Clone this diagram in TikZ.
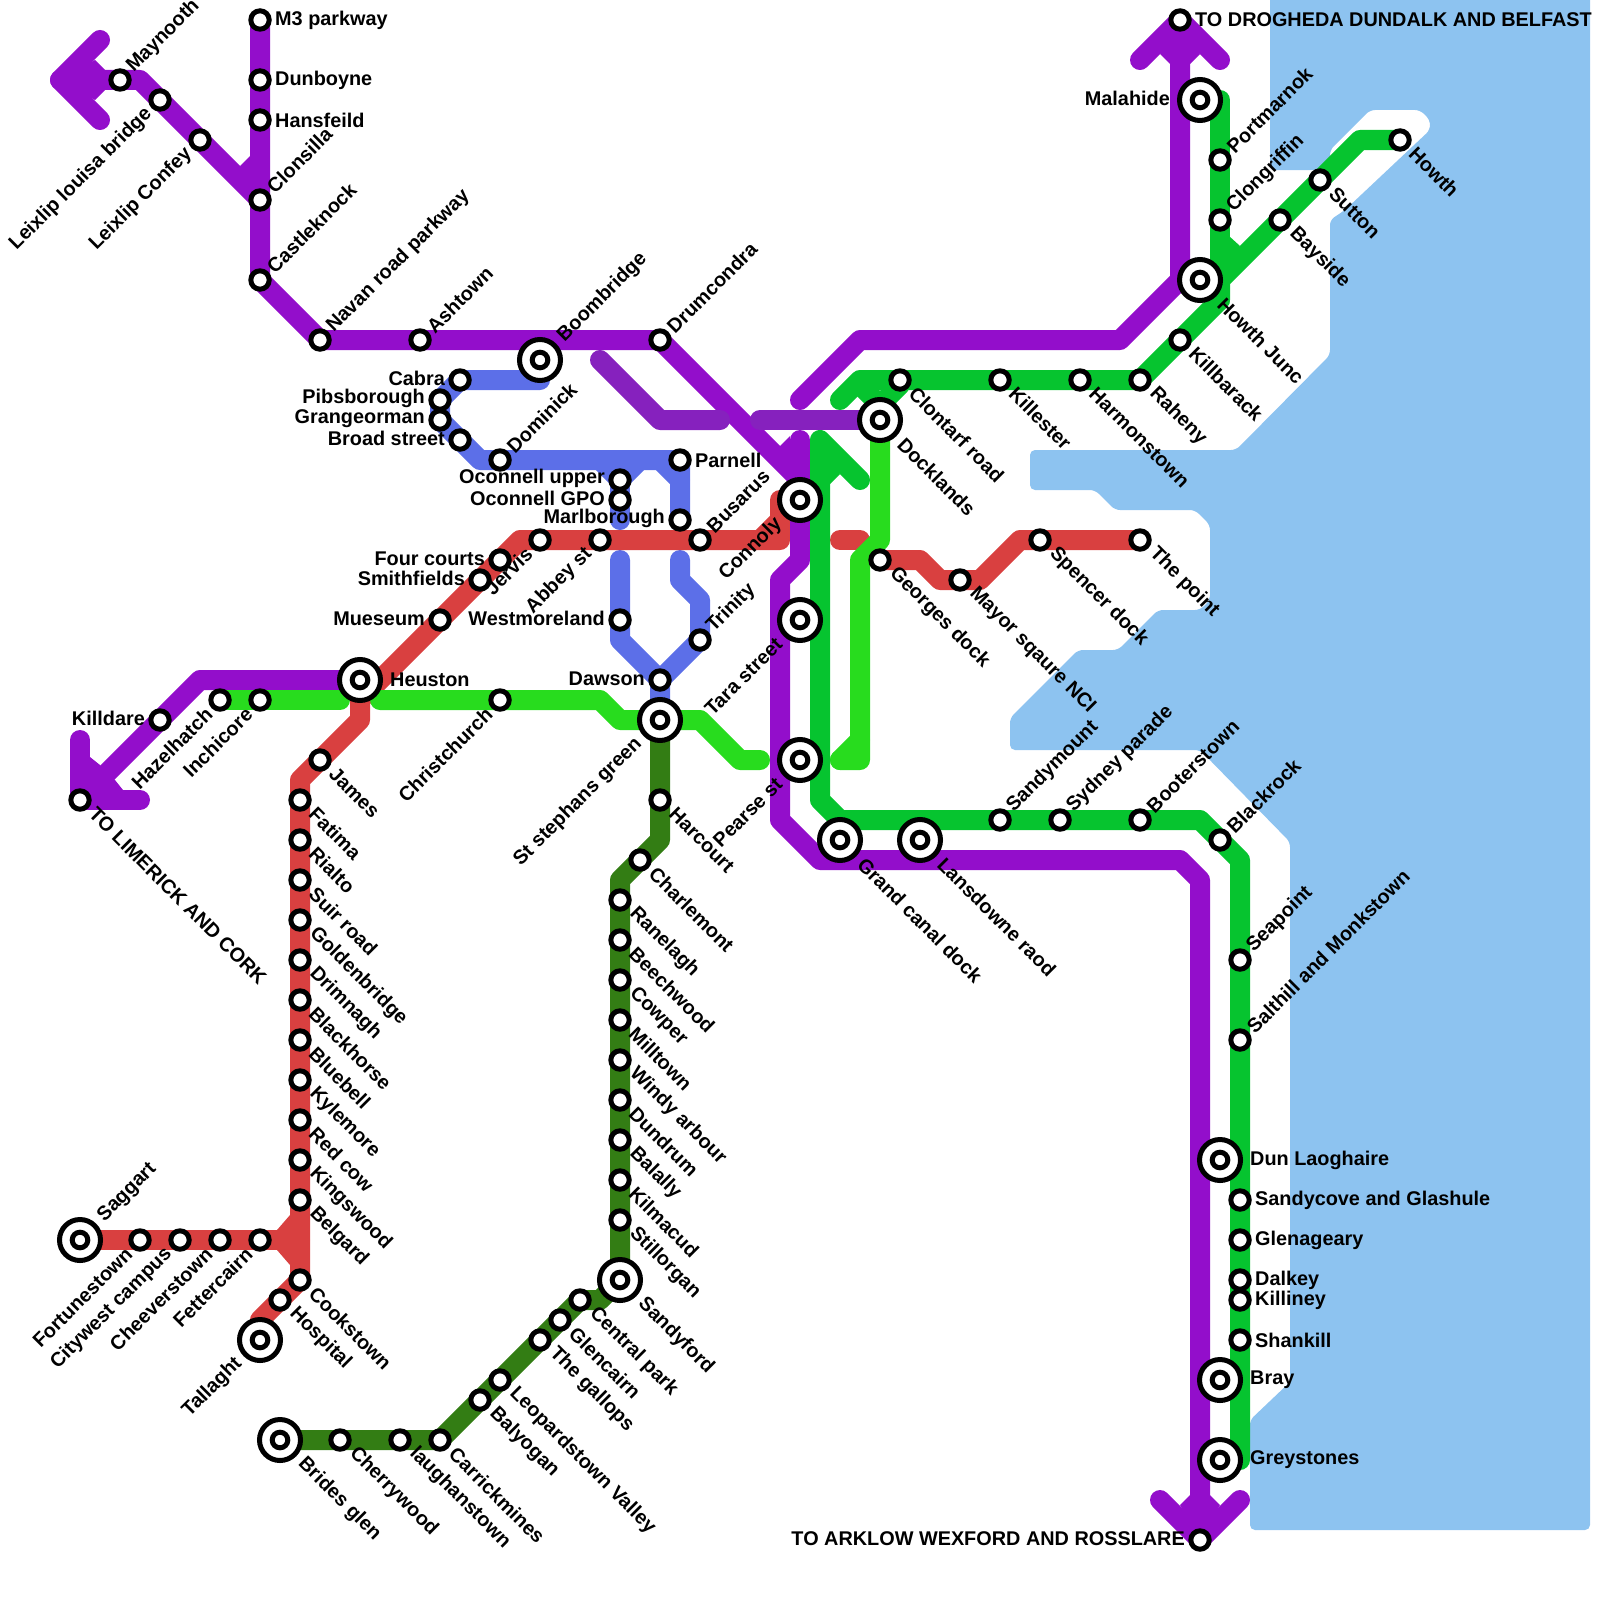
\documentclass[tikz,border=0pt]{standalone}
\usepackage{fontspec}
\setmainfont{Liberation Sans}
\definecolor{cpurple}{HTML}{930ECB}
\definecolor{cdpurple}{HTML}{8621BE}
\definecolor{cblue}{HTML}{5C6FE8}
\definecolor{cred}{HTML}{D94040}
\definecolor{cgreen}{HTML}{06C42F}
\definecolor{clgreen}{HTML}{28DC1E}
\definecolor{cdgreen}{HTML}{337D14}
\definecolor{csea}{HTML}{8DC3F0}
\tikzset{
  rail/.style={line width=20bp,line cap=round,line join=round},
  stn/.style={circle,draw=black,fill=white,line width=5bp,minimum size=18.4bp,inner sep=0pt},
  hubout/.style={circle,draw=black,fill=white,line width=5bp,minimum size=41bp,inner sep=0pt},
  hubin/.style={circle,draw=black,fill=white,line width=5bp,minimum size=15.6bp,inner sep=0pt},
  lbl/.style={inner sep=0pt,text=black,font=\fontsize{19.85bp}{20bp}\selectfont\bfseries}
}
\newcommand{\Place}[5]{\node[stn] (s#1) at (#1) {}; \node[lbl,rotate=#2,anchor=#3] (t#1) at ([shift={(#4)}]#1) {#5};}
\newcommand{\PlaceHub}[5]{\node[hubout] (s#1) at (#1) {}; \node[hubin] (c#1) at (#1) {}; \node[lbl,rotate=#2,anchor=#3] (t#1) at ([shift={(#4)}]#1) {#5};}
\newcommand{\sUR}[2]{\Place{#1}{45}{west}{10,-10.5}{#2}}
\newcommand{\sUL}[2]{\Place{#1}{45}{east}{-11,11}{#2}}
\newcommand{\sDR}[2]{\Place{#1}{-45}{west}{12.5,10.5}{#2}}
\newcommand{\sRT}[2]{\Place{#1}{0}{west}{15,0}{#2}}
\newcommand{\sLT}[2]{\Place{#1}{0}{east}{-15,-1.5}{#2}}
\newcommand{\hUR}[2]{\PlaceHub{#1}{45}{west}{21,-21}{#2}}
\newcommand{\hUL}[2]{\PlaceHub{#1}{45}{east}{-21,21}{#2}}
\newcommand{\hDR}[2]{\PlaceHub{#1}{-45}{west}{21,21}{#2}}
\newcommand{\hRT}[2]{\PlaceHub{#1}{0}{west}{30,0}{#2}}
\newcommand{\hLT}[2]{\PlaceHub{#1}{0}{east}{-30,-2}{#2}}
\begin{document}
\begin{tikzpicture}[x=1bp,y=-1bp]
\useasboundingbox (0,0) rectangle (1600,1600);
% sea
\fill[csea,rounded corners=5bp] (1270,-10)--(1270,170)--(1330,170)--(1330,150)--(1370,110)--(1420,110)--(1430,120)--(1430,130)--(1345,210)--(1330,220)--(1330,355)--(1236,450)--(1030,450)--(1030,490)--(1095,490)--(1115,510)--(1195,510)--(1210,525)--(1210,600)--(1200,610)--(1158,610)--(1118,650)--(1078,650)--(1010,718)--(1010,750)--(1200,750)--(1290,842)--(1290,1382)--(1250,1420)--(1250,1530)--(1590,1530)--(1590,-10)--cycle;
% station positions
\foreach \n/\x/\y in {maynooth/120/80,louisa/160/100,confey/200/140,mthree/260/20,dunboyne/260/80,hansfeild/260/120,clonsilla/260/200,castleknock/260/280,navan/320/340,ashtown/420/340,boombridge/540/360,drumcondra/660/340,
cabra/460/380,pibsborough/440/400,grangeorman/440/420,broad/460/440,dominick/500/460,parnell/680/460,oupper/620/480,ogpo/620/500,marlborough/680/520,busarus/700/540,abbey/600/540,jervis/540/540,fourcourts/500/560,smithfields/480/580,mueseum/440/620,westmoreland/620/620,trinity/700/640,dawson/660/680,heuston/360/680,christchurch/500/700,inchicore/260/700,hazelhatch/220/700,killdare/160/720,limerick/80/800,stephans/660/720,connoly/800/500,tara/800/620,pearse/800/760,harcourt/660/800,charlemont/640/860,
ranelagh/620/900,beechwood/620/940,cowper/620/980,milltown/620/1020,windy/620/1060,dundrum/620/1100,balally/620/1140,kilmacud/620/1180,stillorgan/620/1220,sandyford/620/1280,central/580/1300,glencairn/560/1320,gallops/540/1340,leopardstown/500/1380,balyogan/480/1400,carrickmines/440/1440,laughanstown/400/1440,cherrywood/340/1440,brides/280/1440,
james/320/760,fatima/300/800,rialto/300/840,suir/300/880,goldenbridge/300/920,drimnagh/300/960,blackhorse/300/1000,bluebell/300/1040,kylemore/300/1080,redcow/300/1120,kingswood/300/1160,belgard/300/1200,cookstown/300/1280,hospital/280/1300,tallaght/260/1340,fettercairn/260/1240,cheeverstown/220/1240,citywest/180/1240,fortunestown/140/1240,saggart/80/1240,
docklands/880/420,clontarf/900/380,killester/1000/380,harmonstown/1080/380,raheny/1140/380,killbarack/1180/340,howthjunc/1200/280,bayside/1280/220,sutton/1320/180,howth/1400/140,clongriffin/1220/220,portmarnok/1220/160,malahide/1200/100,drogheda/1180/20,
georges/880/560,mayor/960/580,spencer/1040/540,thepoint/1140/540,grandcanal/840/840,lansdowne/920/840,sandymount/1000/820,sydney/1060/820,booterstown/1140/820,blackrock/1220/840,seapoint/1240/960,salthill/1240/1040,dun/1220/1160,sandycove/1240/1200,glenageary/1240/1240,dalkey/1240/1280,killiney/1240/1300,shankill/1240/1340,bray/1220/1380,greystones/1220/1460,arklow/1200/1540}
  {\coordinate (\n) at (\x,\y);}
% bends
\foreach \n/\x/\y in {pa/100/40,pb/60/80,pc/100/120,pd/140/80,pe/800/480,pf/800/440,pg/800/560,ph/780/580,pi/780/820,pj/820/860,pk/1180/860,pl/1200/880,
pm/800/400,pn/860/340,po/1120/340,pp/1180/280,pq/1140/60,pr/1220/60,ps/200/680,pt/80/740,pu/140/800,pv/1160/1500,pw/1240/1500,
da/600/360,db/660/420,dc/720/420,dd/760/420,
ga/840/400,gb/860/380,gc/880/405,gd/900/385,ge/860/385,gf/1220/300,gg/1220/280,gh/1360/140,gi/1220/100,gj/860/480,gk/820/440,gl/820/800,gm/840/820,gn/1200/820,go/1240/860,gp/1240/1460,
la/880/540,lb/860/560,lc/860/760,ld/840/760,le/860/740,lf/340/700,lg/380/700,lh/600/700,li/620/720,lj/700/720,lk/740/760,ll/760/760,
ba/480/460,bb/660/460,bc/680/480,bd/600/460,be/640/460,bf/620/520,bg/620/560,bh/620/640,bi/680/560,bj/680/580,bk/700/600,bl/660/700,
ra/780/500,rb/780/540,rc/760/540,rd/780/520,re/520/540,rf/360/700,rg/360/720,rh/300/780,ri/260/1320,rj/840/540,rk/860/540,rl/920/560,rm/940/580,rn/980/580,ro/1020/540,rp/880/560,
ka/660/840,kb/620/880,kc/600/1300}
  {\coordinate (\n) at (\x,\y);}
% dark green
\draw[rail,cdgreen] (stephans)--(harcourt)--(ka)--(charlemont)--(kb)--(ranelagh)--(sandyford)--(kc)--(central)--(glencairn)--(gallops)--(leopardstown)--(balyogan)--(carrickmines)--(laughanstown)--(cherrywood)--(brides);
% blue
\draw[rail,cblue] (boombridge|-cabra)--(cabra)--(pibsborough)--(grangeorman)--(broad)--(ba)--(parnell)--(marlborough);
\draw[rail,cblue] (bb)--(bc);
\draw[rail,cblue] (bd)--(oupper)--(be);
\draw[rail,cblue] (oupper)--(bf);
\draw[rail,cblue] (bg)--(westmoreland)--(bh)--(dawson)--(bl);
\draw[rail,cblue] (bi)--(bj)--(bk)--(trinity)--(dawson);
% red
\draw[rail,cred] (connoly)--(ra)--(rb)--(busarus)--(abbey)--(jervis)--(re)--(fourcourts)--(smithfields)--(mueseum)--(rf)--(rg)--(james)--(rh)--(fatima)--(cookstown)--(hospital)--(ri)--(tallaght);
\draw[rail,cred] (saggart)--(fortunestown)--(citywest)--(cheeverstown)--(fettercairn)--(belgard|-fettercairn);
\draw[rail,cred] (rc)--(rd);
\fill[cred] (277,1230)--(290,1215)--(290,1265)--(277,1250)--cycle;
\draw[rail,cred] (rj)--(rk);
\draw[rail,cred] (rp)--(rl)--(rm)--(rn)--(ro)--(spencer)--(thepoint);
% purple
\draw[rail,cpurple] (pa)--(pb)--(pc);
\draw[rail,cpurple] (pb)--(maynooth)--(pd)--(louisa)--(confey)--(clonsilla);
\fill[cpurple] (60,80)--(95,60)--(105,70)--(105,90)--(95,100)--cycle;
\draw[rail,cpurple] (mthree)--(dunboyne)--(hansfeild)--(clonsilla)--(castleknock)--(navan)--(ashtown)--(drumcondra)--(pe)--(connoly)--(pg)--(ph)--(pi)--(pj)--(pk)--(pl)--(arklow);
\fill[cpurple] (240,166)--(250,156)--(250,190)--cycle;
\draw[rail,cpurple] (pf)--(pe);
\fill[cpurple] (780,446)--(790,436)--(790,470)--(780,460)--cycle;
\draw[rail,cpurple] (pm)--(pn)--(po)--(pp)--(drogheda);
\draw[rail,cpurple] (pq)--(drogheda)--(pr);
\fill[cpurple] (1180,20)--(1160,54)--(1170,64)--(1190,64)--(1200,54)--cycle;
\draw[rail,cpurple] (heuston)--(ps)--(killdare)--(limerick);
\draw[rail,cpurple] (pt)--(limerick)--(pu);
\fill[cpurple] (80,800)--(90,757)--(100,765)--(115,780)--(123,790)--cycle;
\draw[rail,cpurple] (pv)--(arklow)--(pw);
\fill[cpurple] (1200,1540)--(1180,1505)--(1190,1495)--(1210,1495)--(1220,1505)--cycle;
% dark purple
\draw[rail,cdpurple] (da)--(db)--(dc);
\draw[rail,cdpurple] (dd)--(docklands);
% light green
\draw[rail,clgreen] (docklands)--(la)--(lb)--(lc)--(ld);
\draw[rail,clgreen] (ld)--(le);
\draw[rail,clgreen] (hazelhatch)--(inchicore)--(lf);
\draw[rail,clgreen] (lg)--(christchurch)--(lh)--(li)--(stephans)--(lj)--(lk)--(ll);
% green
\draw[rail,cgreen] (ga)--(gb)--(clontarf)--(killester)--(harmonstown)--(raheny)--(killbarack)--(gf)--(gg)--(bayside)--(sutton)--(gh)--(howth);
\draw[rail,cgreen] (ge)--(gc)--(gd);
\draw[rail,cgreen] (malahide)--(gi)--(portmarnok)--(clongriffin)--(gf);
\fill[cgreen] (1229,236)--(1240,246)--(1225,270)--cycle;
\draw[rail,cgreen] (gj)--(gk)--(gl)--(gm)--(sandymount)--(sydney)--(booterstown)--(gn)--(blackrock)--(go)--(seapoint)--(salthill)--(sandycove)--(glenageary)--(dalkey)--(killiney)--(shankill)--(gp)--(greystones);
\fill[cgreen] (820,440)--(840,474)--(830,484)--(812,484)--cycle;
% stations and labels
\sUR{maynooth}{Maynooth}
\sUL{louisa}{Leixlip louisa bridge}
\sUL{confey}{Leixlip Confey}
\sRT{mthree}{M3 parkway}
\sRT{dunboyne}{Dunboyne}
\sRT{hansfeild}{Hansfeild}
\sUR{clonsilla}{Clonsilla}
\sUR{castleknock}{Castleknock}
\sUR{navan}{Navan road parkway}
\sUR{ashtown}{Ashtown}
\hUR{boombridge}{Boombridge}
\sUR{drumcondra}{Drumcondra}
\sLT{cabra}{Cabra}
\sLT{pibsborough}{Pibsborough}
\sLT{grangeorman}{Grangeorman}
\sLT{broad}{Broad street}
\sUR{dominick}{Dominick}
\sRT{parnell}{Parnell}
\sLT{oupper}{Oconnell upper}
\sLT{ogpo}{Oconnell GPO}
\sLT{marlborough}{Marlborough}
\sUR{busarus}{Busarus}
\sUL{abbey}{Abbey st}
\sUL{jervis}{Jervis}
\sLT{fourcourts}{Four courts}
\sLT{smithfields}{Smithfields}
\sLT{mueseum}{Mueseum}
\sLT{westmoreland}{Westmoreland}
\sUR{trinity}{Trinity}
\sLT{dawson}{Dawson}
\hRT{heuston}{Heuston}
\sUL{christchurch}{Christchurch}
\sUL{inchicore}{Inchicore}
\sUL{hazelhatch}{Hazelhatch}
\sLT{killdare}{Killdare}
\sDR{limerick}{TO LIMERICK AND CORK}
\hUL{stephans}{St stephans green}
\hUL{connoly}{Connoly}
\hUL{tara}{Tara street}
\hUL{pearse}{Pearse st}
\sDR{harcourt}{Harcourt}
\sDR{charlemont}{Charlemont}
\sDR{ranelagh}{Ranelagh}
\sDR{beechwood}{Beechwood}
\sDR{cowper}{Cowper}
\sDR{milltown}{Milltown}
\sDR{windy}{Windy arbour}
\sDR{dundrum}{Dundrum}
\sDR{balally}{Balally}
\sDR{kilmacud}{Kilmacud}
\sDR{stillorgan}{Stillorgan}
\hDR{sandyford}{Sandyford}
\sDR{central}{Central park}
\sDR{glencairn}{Glencairn}
\sDR{gallops}{The gallops}
\sDR{leopardstown}{Leopardstown Valley}
\sDR{balyogan}{Balyogan}
\sDR{carrickmines}{Carrickmines}
\sDR{laughanstown}{laughanstown}
\sDR{cherrywood}{Cherrywood}
\hDR{brides}{Brides glen}
\sDR{james}{James}
\sDR{fatima}{Fatima}
\sDR{rialto}{Rialto}
\sDR{suir}{Suir road}
\sDR{goldenbridge}{Goldenbridge}
\sDR{drimnagh}{Drimnagh}
\sDR{blackhorse}{Blackhorse}
\sDR{bluebell}{Bluebell}
\sDR{kylemore}{Kylemore}
\sDR{redcow}{Red cow}
\sDR{kingswood}{Kingswood}
\sDR{belgard}{Belgard}
\sDR{cookstown}{Cookstown}
\sDR{hospital}{Hospital}
\hUL{tallaght}{Tallaght}
\sUL{fettercairn}{Fettercairn}
\sUL{cheeverstown}{Cheeverstown}
\sUL{citywest}{Citywest campus}
\sUL{fortunestown}{Fortunestown}
\hUR{saggart}{Saggart}
\hDR{docklands}{Docklands}
\sDR{clontarf}{Clontarf road}
\sDR{killester}{Killester}
\sDR{harmonstown}{Harmonstown}
\sDR{raheny}{Raheny}
\sDR{killbarack}{Killbarack}
\hDR{howthjunc}{Howth Junc}
\sDR{bayside}{Bayside}
\sDR{sutton}{Sutton}
\sDR{howth}{Howth}
\sUR{clongriffin}{Clongriffin}
\sUR{portmarnok}{Portmarnok}
\hLT{malahide}{Malahide}
\sRT{drogheda}{TO DROGHEDA DUNDALK AND BELFAST}
\sDR{georges}{Georges dock}
\sDR{mayor}{Mayor sqaure NCI}
\sDR{spencer}{Spencer dock}
\sDR{thepoint}{The point}
\hDR{grandcanal}{Grand canal dock}
\hDR{lansdowne}{Lansdowne raod}
\sUR{sandymount}{Sandymount}
\sUR{sydney}{Sydney parade}
\sUR{booterstown}{Booterstown}
\sUR{blackrock}{Blackrock}
\sUR{seapoint}{Seapoint}
\sUR{salthill}{Salthill and Monkstown}
\hRT{dun}{Dun Laoghaire}
\sRT{sandycove}{Sandycove and Glashule}
\sRT{glenageary}{Glenageary}
\sRT{dalkey}{Dalkey}
\sRT{killiney}{Killiney}
\sRT{shankill}{Shankill}
\hRT{bray}{Bray}
\hRT{greystones}{Greystones}
\sLT{arklow}{TO ARKLOW WEXFORD AND ROSSLARE}
\end{tikzpicture}
\end{document}
